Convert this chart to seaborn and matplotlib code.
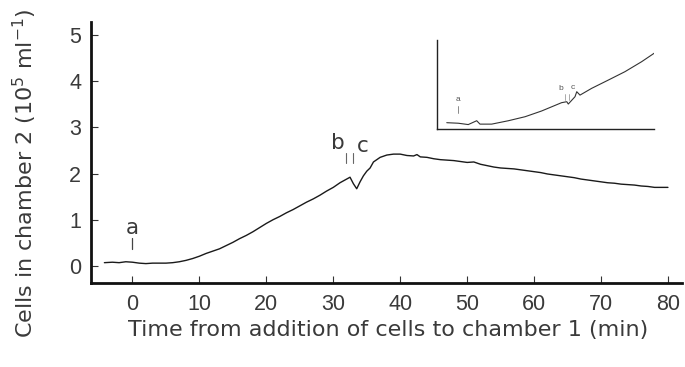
import matplotlib
matplotlib.use("Agg")
import matplotlib.pyplot as plt
import seaborn as sns
import pandas as pd

# Main trace: time (min) vs cells in chamber 2 (10^5 ml^-1)
time_min = [-4.2, -3, -2, -1, 0, 1, 2, 3, 4, 5, 6, 7, 8, 9, 10, 11, 12, 13, 14, 15,
            16, 17, 18, 19, 20, 21, 22, 23, 24, 25, 26, 27, 28, 29, 30, 31, 32, 32.5,
            33.0, 33.5, 34.0, 34.5, 35, 35.5, 36, 37, 38, 39, 40, 41, 42, 42.5, 43, 44,
            45, 46, 47, 48, 49, 50, 51, 52, 53, 54, 55, 56, 57, 58, 59, 60, 61, 62, 63,
            64, 65, 66, 67, 68, 69, 70, 71, 72, 73, 74, 75, 76, 77, 78, 79, 80]
cells = [0.07, 0.08, 0.07, 0.09, 0.08, 0.06, 0.05, 0.06, 0.06, 0.06, 0.07, 0.09, 0.12,
         0.16, 0.21, 0.27, 0.32, 0.37, 0.44, 0.51, 0.59, 0.66, 0.74, 0.83, 0.92, 1.00,
         1.07, 1.15, 1.22, 1.30, 1.38, 1.45, 1.53, 1.62, 1.70, 1.80, 1.88, 1.92, 1.78,
         1.67, 1.82, 1.95, 2.05, 2.12, 2.25, 2.35, 2.40, 2.42, 2.42, 2.39, 2.38, 2.41,
         2.36, 2.35, 2.32, 2.30, 2.29, 2.28, 2.26, 2.24, 2.25, 2.20, 2.17, 2.14, 2.12,
         2.11, 2.10, 2.08, 2.06, 2.04, 2.02, 1.99, 1.97, 1.95, 1.93, 1.91, 1.88, 1.86,
         1.84, 1.82, 1.80, 1.79, 1.77, 1.76, 1.75, 1.73, 1.72, 1.70, 1.70, 1.70]

# Inset trace (arbitrary units)
inset_x = [4.5, 9.8, 14.4, 18.3, 19.8, 25.2, 32.9, 40.6, 48.2, 57.4, 59.8, 60.5, 63.6,
           64.4, 65.9, 71.3, 79.0, 86.6, 94.3, 100.4]
inset_y = [7.4, 6.8, 5.3, 9.6, 5.8, 5.8, 9.6, 14.1, 20.5, 29.8, 30.9, 28.3, 36.5, 42.1,
           38.3, 45.9, 55.2, 64.5, 75.7, 85.7]

x_ticks = [0, 10, 20, 30, 40, 50, 60, 70, 80]
y_ticks = [0, 1, 2, 3, 4, 5]

sns.set_style("ticks")
plt.rcParams['font.family'] = ['Liberation Sans', 'DejaVu Sans']
plt.rcParams['mathtext.fontset'] = 'dejavusans'

txt = '#3a3a3a'
fig = plt.figure(figsize=(6.85, 3.67), dpi=100)
ax = fig.add_axes([91/685, 1-283/367, (682-91)/685, (283-22)/367])

df = pd.DataFrame({"t": time_min, "c": cells})
sns.lineplot(data=df, x="t", y="c", ax=ax, color='#1a1a1a', lw=1.0)

ax.set_xlim(-6.2, 82.1)
ax.set_ylim(-0.37, 5.28)
ax.set_xticks(x_ticks)
ax.set_yticks(y_ticks)
ax.set_xticklabels([str(v) for v in x_ticks])
ax.set_yticklabels([str(v) for v in y_ticks])
ax.tick_params(direction='in', length=5, width=0.8, labelsize=15.5, labelcolor=txt,
               color='#333333')
ax.tick_params(axis='x', pad=8)
ax.tick_params(axis='y', pad=7)
for s in ['top', 'right']:
    ax.spines[s].set_visible(False)
for s in ['left', 'bottom']:
    ax.spines[s].set_linewidth(2.0)
    ax.spines[s].set_color('#111111')
ax.set_xlabel("")
ax.set_ylabel("")

fig.text(25/685, 1-173/367, r"Cells in chamber 2 (10$^{5}$ ml$^{-1}$)", rotation=90,
         ha='center', va='center', fontsize=16, color=txt, family='DejaVu Sans')
fig.text(388/685, 1-330/367, "Time from addition of cells to chamber 1 (min)",
         ha='center', va='center', fontsize=16, color=txt, family='DejaVu Sans')

# annotations on main trace
ax.text(0, 0.82, "a", ha='center', va='center', fontsize=15.5, color=txt,
        family='DejaVu Sans')
ax.plot([0, 0], [0.37, 0.6], color='#444444', lw=0.9)
ax.text(30.7, 2.66, "b", ha='center', va='center', fontsize=15.5, color=txt,
        family='DejaVu Sans')
ax.text(34.4, 2.60, "c", ha='center', va='center', fontsize=15.5, color=txt,
        family='DejaVu Sans')
ax.plot([31.9, 31.9], [2.23, 2.45], color='#666666', lw=0.8)
ax.plot([33.0, 33.0], [2.23, 2.45], color='#666666', lw=0.8)

# inset
ins = fig.add_axes([437/685, 1-129.3/367, (654-437)/685, (129.3-40)/367])
dfi = pd.DataFrame({"u": inset_x, "w": inset_y})
sns.lineplot(data=dfi, x="u", y="w", ax=ins, color='#333333', lw=0.8)
ins.set_xlim(0, 100)
ins.set_ylim(0, 100)
ins.set_xticks([])
ins.set_yticks([])
ins.set_xlabel("")
ins.set_ylabel("")
for s in ['top', 'right']:
    ins.spines[s].set_visible(False)
for s in ['left', 'bottom']:
    ins.spines[s].set_linewidth(1.0)
    ins.spines[s].set_color('#222222')
ins.text(9.8, 33, "a", ha='center', va='center', fontsize=6, color='#555555')
ins.plot([9.8, 9.8], [18, 26], color='#777777', lw=0.6)
ins.text(57, 46, "b", ha='center', va='center', fontsize=6, color='#555555')
ins.text(62.5, 47, "c", ha='center', va='center', fontsize=6, color='#555555')
ins.plot([59.0, 59.0], [33, 40], color='#888888', lw=0.5)
ins.plot([60.6, 60.6], [33, 40], color='#888888', lw=0.5)

fig.savefig("out.png", dpi=100)
